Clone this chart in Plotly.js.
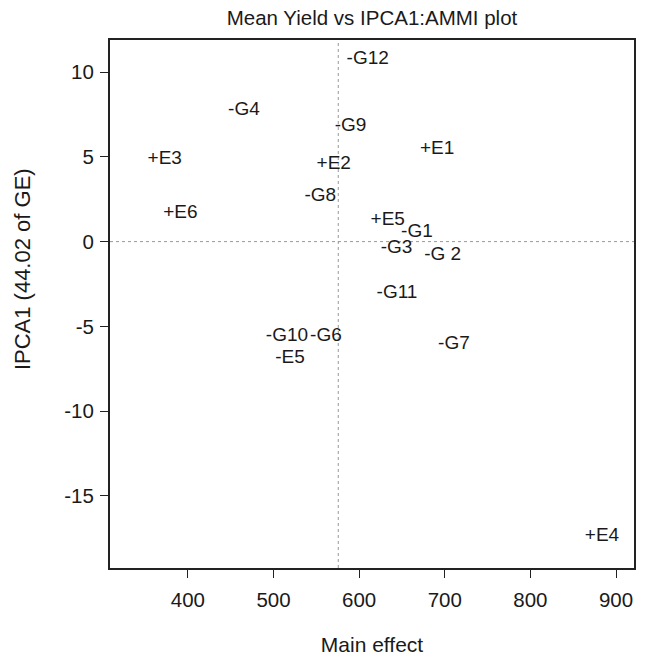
<!DOCTYPE html>
<html>
<head>
<meta charset="utf-8">
<script src="https://cdn.plot.ly/plotly-3.0.1.min.js"></script>
<style>html,body{margin:0;padding:0;background:#fff;}#chart{width:646px;height:657px;}</style>
</head>
<body>
<div id="chart"></div>
<script>
// Labels as printed on the plot ("+" environments, "-" genotypes)
const labels = ["-G12", "-G4", "-G9", "+E3", "+E2", "-G8", "+E6", "+E1", "+E5", "-G1", "-G3", "-G 2", "-G11", "-G10", "-G6", "-E5", "-G7", "+E4"];
// Main effect (mean yield)
const mainEffect = [610.0, 465.4, 590.0, 372.9, 570.3, 554.6, 391.2, 691.1, 633.4, 667.5, 643.6, 697.5, 644.2, 515.7, 561.2, 519.2, 710.7, 883.6];
// IPCA1 scores
const ipca1 = [10.77, 7.76, 6.82, 4.85, 4.56, 2.65, 1.67, 5.46, 1.27, 0.55, -0.42, -0.79, -3.03, -5.60, -5.57, -6.85, -6.04, -17.36];
// Reference lines: grand mean and IPCA1 = 0
const grandMean = 575.6;
const ipcaZero = 0;
const xTicks = [400, 500, 600, 700, 800, 900];
const yTicks = [-15, -10, -5, 0, 5, 10];

const font = "Liberation Sans, Arial, Helvetica, sans-serif";
const ink = "#1a1a1a";

const trace = {
  type: "scatter",
  mode: "text",
  x: mainEffect,
  y: ipca1,
  text: labels,
  textposition: "middle center",
  textfont: {family: font, size: 19, color: ink},
  hoverinfo: "none",
  showlegend: false
};

const axisCommon = {
  showline: true, linewidth: 2, linecolor: "#222", mirror: true,
  ticks: "outside", ticklen: 8, tickwidth: 1, tickcolor: "#222",
  showgrid: false, zeroline: false,
  tickfont: {family: font, size: 20.5, color: ink}
};

const layout = {
  width: 646, height: 657,
  margin: {l: 110, r: 12, t: 40, b: 89},
  paper_bgcolor: "#fff", plot_bgcolor: "#fff",
  title: {text: "Mean Yield vs IPCA1:AMMI plot", font: {family: font, size: 20.5, color: ink}, xref: "paper", x: 0.5, xanchor: "center", y: 0.973, yanchor: "middle"},
  xaxis: Object.assign({}, axisCommon, {
    range: [309, 921], tickmode: "array", tickvals: xTicks, ticktext: xTicks.map(String),
    ticklabelstandoff: 4,
    title: {text: "Main effect", font: {family: font, size: 21, color: ink}, standoff: 28}
  }),
  yaxis: Object.assign({}, axisCommon, {
    range: [-19.25, 11.89], tickmode: "array", tickvals: yTicks, ticktext: yTicks.map(String),
    ticklabelstandoff: 2,
    title: {text: ""}
  }),
  annotations: [
    {text: "IPCA1 (44.02 of GE)", xref: "paper", yref: "paper", x: -0.168, y: 0.566, xanchor: "center", yanchor: "middle",
     textangle: -90, showarrow: false, font: {family: font, size: 22, color: ink}}
  ],
  shapes: [
    {type: "line", xref: "x", yref: "paper", x0: grandMean, x1: grandMean, y0: 0, y1: 1, line: {color: "#999", width: 1, dash: "dot"}, layer: "below"},
    {type: "line", xref: "paper", yref: "y", x0: 0, x1: 1, y0: ipcaZero, y1: ipcaZero, line: {color: "#999", width: 1, dash: "dot"}, layer: "below"}
  ]
};

Plotly.newPlot("chart", [trace], layout, {displayModeBar: false, staticPlot: true});
</script>
</body>
</html>
